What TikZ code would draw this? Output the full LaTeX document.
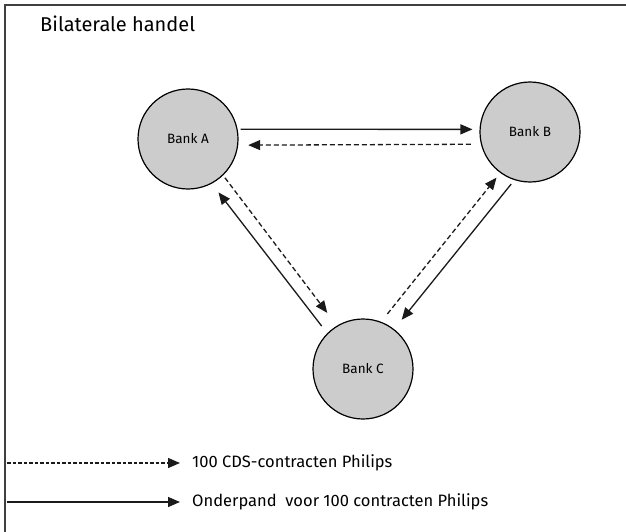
\documentclass[tikz,border=0pt]{standalone}
\usepackage{fontspec}
\setmainfont{Fira Sans}
\usetikzlibrary{arrows.meta}
\definecolor{bankfill}{HTML}{CCCCCC}
\definecolor{framec}{HTML}{404040}
\definecolor{linec}{HTML}{1A1A1A}
\begin{document}
\begin{tikzpicture}[x=1pt,y=-1pt,
  tip/.style={-{Triangle[length=12pt,width=10pt]}},
  bank/.style={circle,draw=black,line width=1.2pt,fill=bankfill,minimum size=100pt,inner sep=0pt,font=\fontsize{13.5}{15}\selectfont},
  solidarrow/.style={draw=linec,line width=1.3pt,tip},
  dasharrow/.style={draw=linec,line width=1.3pt,dash pattern=on 5pt off 3pt,tip},
  legtext/.style={anchor=west,inner sep=0pt,font=\fontsize{16.5}{20}\selectfont}]
\useasboundingbox (0,0) rectangle (626,532);
\fill[white] (0,0) rectangle (626,532);
\draw[framec,line width=2pt] (4.5,532) -- (4.5,5) -- (626,5);
\node[anchor=west,inner sep=0pt,font=\fontsize{20}{24}\selectfont] (title) at (40,24) {Bilaterale handel};
\node[bank] (A) at (188,139) {Bank A};
\node[bank] (B) at (530,132) {Bank B};
\node[bank] (C) at (363,369) {Bank C};
% A <-> B
\draw[solidarrow,shorten <=3pt,shorten >=7pt] (A.11) -- (B.177);
\draw[dasharrow,shorten <=10pt,shorten >=10pt] (B.194) -- (A.353);
% A <-> C
\draw[dasharrow,shorten <=3pt,shorten >=16pt] (A.314) -- (C.121);
\draw[solidarrow,shorten <=9pt,shorten >=11pt] (C.135) -- (A.298);
% B <-> C
\draw[dasharrow,shorten <=10pt,shorten >=6pt] (C.69) -- (B.234);
\draw[solidarrow,shorten <=5pt,shorten >=12pt] (B.252) -- (C.52);
% legend
\coordinate (l1) at (7,463);
\coordinate (l2) at (7,502);
\node[legtext] (t1) at (192,463) {100 CDS-contracten Philips};
\node[legtext] (t2) at (192,502) {Onderpand\ \ voor 100 contracten Philips};
\draw[linec,line width=1.3pt,dash pattern=on 3.5pt off 2pt,tip,shorten >=12pt] (l1) -- (t1.west);
\draw[linec,line width=1.3pt,tip,shorten >=12pt] (l2) -- (t2.west);
\end{tikzpicture}
\end{document}
